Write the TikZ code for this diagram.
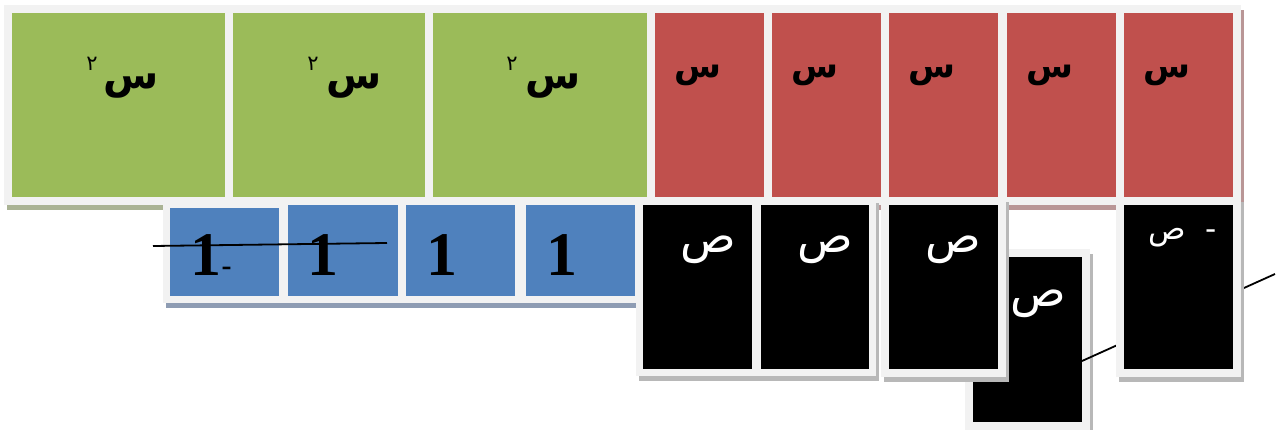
\documentclass[tikz,border=0pt]{standalone}
\usepackage{fontspec}
\setmainfont{Liberation Serif}
\newfontfamily\arabicfont[Script=Arabic]{DejaVu Sans}
\TeXXeTstate=1
\usetikzlibrary{calc}
\definecolor{tgreen}{HTML}{9BBB59}
\definecolor{tred}{HTML}{C0504D}
\definecolor{tblue}{HTML}{4F81BD}
\definecolor{tframe}{HTML}{F2F2F2}
\definecolor{sgreen}{HTML}{AAB394}
\definecolor{sred}{HTML}{B99696}
\definecolor{sblue}{HTML}{8E9CB3}
\definecolor{sblack}{HTML}{B8B8B8}
% name, x1, y1, x2, y2, fill, shadow, frame width
\newcommand\tilebox[8]{%
  \fill[#7] (#2-#8+3,#3-#8+5) rectangle (#4+#8+3,#5+#8+5);
  \fill[tframe] (#2-#8,#3-#8) rectangle (#4+#8,#5+#8);
  \node[tilesq, fill=#6, minimum width={(#4-#2)*1pt}, minimum height={(#5-#3)*1pt}] (#1) at (#2,#3) {};
}
\tikzset{
  tilesq/.style={inner sep=0pt, outer sep=0pt, anchor=north west, draw=none},
  seenbig/.style={inner sep=0pt, font=\arabicfont\bfseries\fontsize{40}{40}\selectfont},
  seensmall/.style={inner sep=0pt, font=\arabicfont\bfseries\fontsize{34}{34}\selectfont},
  suptext/.style={inner sep=0pt, font=\arabicfont\fontsize{21}{21}\selectfont},
  sadtext/.style={inner sep=0pt, text=white, font=\arabicfont\fontsize{46}{46}\selectfont},
  sadsmall/.style={inner sep=0pt, text=white, font=\arabicfont\fontsize{31}{31}\selectfont},
  onetext/.style={inner sep=0pt, anchor=base, font=\bfseries\fontsize{62}{62}\selectfont},
  conn/.style={draw=black, line width=1.8pt},
}
\begin{document}
\begin{tikzpicture}[x=1pt,y=-1pt]
\useasboundingbox (0,0) rectangle (1279,430);
\fill[white] (0,0) rectangle (1279,430);
% top row
\tilebox{g1}{12}{13}{225}{197}{tgreen}{sgreen}{8}
\tilebox{g2}{233}{13}{425}{197}{tgreen}{sgreen}{8}
\tilebox{g3}{433}{13}{647}{197}{tgreen}{sgreen}{8}
\tilebox{r1}{655}{13}{764}{197}{tred}{sred}{8}
\tilebox{r2}{772}{13}{881}{197}{tred}{sred}{8}
\tilebox{r3}{889}{13}{998}{197}{tred}{sred}{8}
\tilebox{r4}{1007}{13}{1116}{197}{tred}{sred}{8}
\tilebox{r5}{1124}{13}{1233}{197}{tred}{sred}{8}
% lower black tile and line behind the last tile
\tilebox{k4}{973}{257}{1082}{422}{black}{sblack}{8}
\coordinate (lend) at (1275,274);
\draw[conn] ($(k4.south east)+(0,-61)$) -- (lend);
% blue tiles
\tilebox{b1}{170}{208}{279}{296}{tblue}{sblue}{7}
\tilebox{b2}{288}{205}{398}{296}{tblue}{sblue}{7}
\tilebox{b3}{406}{205}{515}{296}{tblue}{sblue}{7}
\tilebox{b4}{526}{205}{635}{296}{tblue}{sblue}{7}
% black tiles
\tilebox{k1}{643}{205}{752}{369}{black}{sblack}{7}
\tilebox{k2}{761}{205}{869}{369}{black}{sblack}{7}
\tilebox{k3}{889}{205}{998}{369}{black}{sblack}{8}
\tilebox{k5}{1124}{205}{1233}{369}{black}{sblack}{8}
% texts top row
\node[seenbig] (g1t) at (131,86) {\beginR س\endR};
\node[suptext] (g1p) at (92,64) {\beginR ٢\endR};
\node[seenbig] (g2t) at (354,86) {\beginR س\endR};
\node[suptext] (g2p) at (313,64) {\beginR ٢\endR};
\node[seenbig] (g3t) at (553,86) {\beginR س\endR};
\node[suptext] (g3p) at (512,64) {\beginR ٢\endR};
\node[seensmall] (r1t) at (698,75) {\beginR س\endR};
\node[seensmall] (r2t) at (815,75) {\beginR س\endR};
\node[seensmall] (r3t) at (932,75) {\beginR س\endR};
\node[seensmall] (r4t) at (1050,75) {\beginR س\endR};
\node[seensmall] (r5t) at (1167,75) {\beginR س\endR};
% blue texts
\node[onetext] (b1t) at (211,276) {1{\fontsize{30}{30}\selectfont -}};
\node[onetext] (b2t) at (323,276) {1};
\node[onetext] (b3t) at (442,276) {1};
\node[onetext] (b4t) at (562,276) {1};
% black texts
\node[sadtext] (k1t) at (708,250) {\beginR ص\endR};
\node[sadtext] (k2t) at (825,250) {\beginR ص\endR};
\node[sadtext] (k3t) at (953,250) {\beginR ص\endR};
\node[sadtext] (k4t) at (1038,304) {\beginR ص\endR};
\node[sadsmall] (k5t) at (1183,238) {\beginR -\ \ ص\endR};
% strike line
\coordinate (sa) at (153,246);
\coordinate (sb) at (387,243);
\draw[conn] (sa) -- (sb);
\end{tikzpicture}
\end{document}
